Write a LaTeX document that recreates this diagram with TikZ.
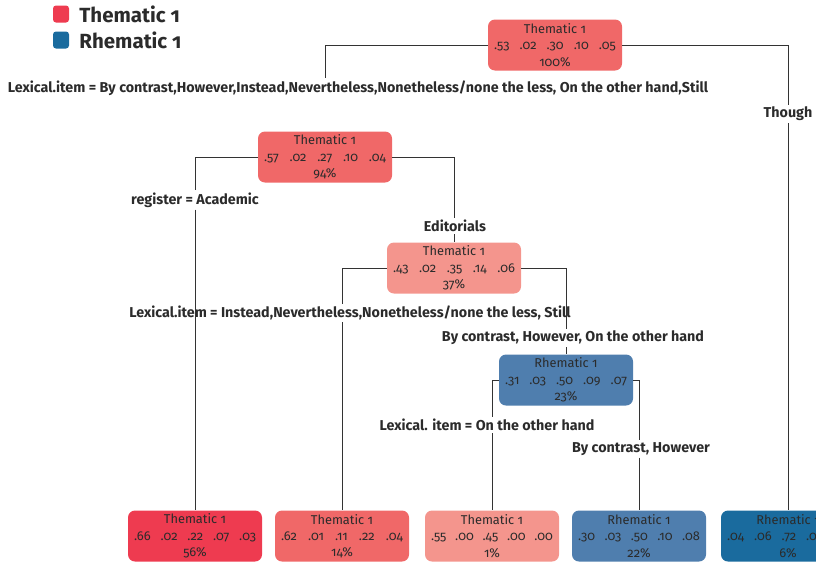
\documentclass[tikz,border=0pt]{standalone}
\usepackage{fontspec}
\setmainfont[Numbers=OldStyle]{Fira Sans}
\setsansfont[Numbers=OldStyle]{Fira Sans}
\usetikzlibrary{positioning}

\definecolor{thmA}{HTML}{EE3B50}
\definecolor{thmB}{HTML}{F06868}
\definecolor{thmC}{HTML}{F4958D}
\definecolor{rhmA}{HTML}{4F7EAE}
\definecolor{rhmB}{HTML}{1A6B9E}
\definecolor{ink}{HTML}{2B2B2B}
\definecolor{wire}{HTML}{333333}

% node text: class, five shares, percent
\newcommand{\leafrows}[3]{%
    #1\\
    \makebox[122pt]{#2}\\
    #3}

\begin{document}
\begin{tikzpicture}[
    % GLOBAL CFG
    x=1pt, y=-1pt,
    font=\sffamily\fontsize{12.8}{16.3}\selectfont,
    % Styles
    box/.style={% For the tree nodes
        rectangle,
        rounded corners=7pt,
        minimum width=134pt,
        minimum height=51pt,
        inner sep=1pt,
        align=center,
        text=ink,
        },
    split/.style={% For the split labels
        font=\sffamily\bfseries\fontsize{14.3}{16}\selectfont,
        text=ink,
        inner sep=2pt,
        },
    key/.style={% For the legend squares
        rectangle,
        rounded corners=3pt,
        minimum width=16pt,
        minimum height=17pt,
        inner sep=0pt,
        },
    keytext/.style={% For the legend texts
        font=\sffamily\bfseries\fontsize{20.5}{22}\selectfont,
        text=ink,
        anchor=west,
        inner sep=0pt,
        },
    branch/.style={% Tree lines
        draw=wire,
        line width=0.8pt,
        },
    ]

\useasboundingbox (0,0) rectangle (816,565);
\clip (0,0) rectangle (816,565);

    % Legend
    \node [key, fill=thmA] (k1) at (61,14) {};
    \node [keytext, right=10pt of k1] (kt1) {Thematic 1};
    \node [key, fill=rhmB] (k2) at (61,40) {};
    \node [keytext, right=10pt of k2] (kt2) {Rhematic 1};

    % Inner nodes
    \node [box, fill=thmB] (root) at (555,45)
        {\leafrows{Thematic 1}{.53\hfill.02\hfill.30\hfill.10\hfill.05}{100\%}};
    \node [box, fill=thmB] (n94) at (325,157)
        {\leafrows{Thematic 1}{.57\hfill.02\hfill.27\hfill.10\hfill.04}{94\%}};
    \node [box, fill=thmC] (n37) at (454,268)
        {\leafrows{Thematic 1}{.43\hfill.02\hfill.35\hfill.14\hfill.06}{37\%}};
    \node [box, fill=rhmA] (n23) at (566,380)
        {\leafrows{Rhematic 1}{.31\hfill.03\hfill.50\hfill.09\hfill.07}{23\%}};

    % Leaves
    \node [box, fill=thmA] (l56) at (195,536)
        {\leafrows{Thematic 1}{.66\hfill.02\hfill.22\hfill.07\hfill.03}{56\%}};
    \node [box, fill=thmB] (l14) at (342,536)
        {\leafrows{Thematic 1}{.62\hfill.01\hfill.11\hfill.22\hfill.04}{14\%}};
    \node [box, fill=thmC] (l1) at (492,536)
        {\leafrows{Thematic 1}{.55\hfill.00\hfill.45\hfill.00\hfill.00}{1\%}};
    \node [box, fill=rhmA] (l22) at (639,536)
        {\leafrows{Rhematic 1}{.30\hfill.03\hfill.50\hfill.10\hfill.08}{22\%}};
    \node [box, fill=rhmB] (l6) at (788,536)
        {\leafrows{Rhematic 1}{.04\hfill.06\hfill.72\hfill.08\hfill.10}{6\%}};

    % Split labels
    \node [split] (s1) at (358,88)
        {Lexical.item = By contrast,However,Instead,Nevertheless,Nonetheless/none the less, On the other hand,Still};
    \node [split] (s2) at (788,114) {Though};
    \node [split] (s3) at (195,200) {register = Academic};
    \node [split] (s4) at (455,226) {Editorials};
    \node [split] (s5) at (350,313)
        {Lexical.item = Instead,Nevertheless,Nonetheless/none the less, Still};
    \node [split] (s6) at (573,338) {By contrast, However, On the other hand};
    \node [split] (s7) at (487,425) {Lexical. item = On the other hand};
    \node [split] (s8) at (641,449) {By contrast, However};

    % Branches
    \draw [branch] (root.west) -| (n94.north |- s1.north);
    \draw [branch] (root.east) -| (l6.north |- s2.north);
    \draw [branch] (l6.north |- s2.south) -- (l6.north);

    \draw [branch] (n94.west) -| (l56.north |- s3.north);
    \draw [branch] (l56.north |- s3.south) -- (l56.north);
    \draw [branch] (n94.east) -| (n37.north |- s4.north);
    \draw [branch] (n37.north |- s4.south) -- (n37.north);

    \draw [branch] (n37.west) -| (l14.north |- s5.north);
    \draw [branch] (l14.north |- s5.south) -- (l14.north);
    \draw [branch] (n37.east) -| (n23.north |- s6.north);
    \draw [branch] (n23.north |- s6.south) -- (n23.north);

    \draw [branch] (n23.west) -| (l1.north |- s7.north);
    \draw [branch] (l1.north |- s7.south) -- (l1.north);
    \draw [branch] (n23.east) -| (l22.north |- s8.north);
    \draw [branch] (l22.north |- s8.south) -- (l22.north);

\end{tikzpicture}
\end{document}
